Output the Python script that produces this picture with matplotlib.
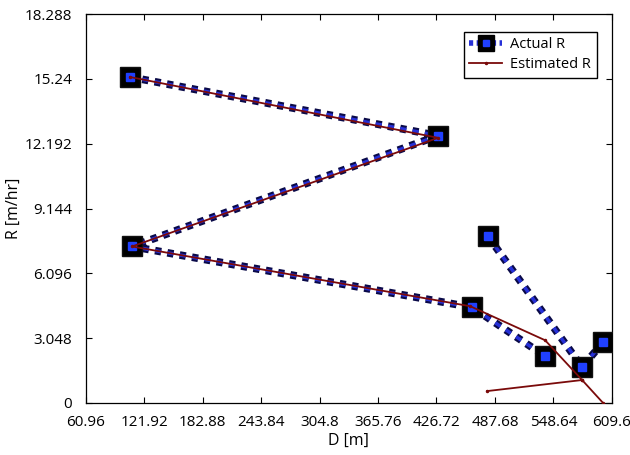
import numpy as np
import matplotlib
matplotlib.use('Agg')
from matplotlib import pyplot as plt
from matplotlib.lines import Line2D

plt.rcParams['font.family'] = ['Open Sans', 'DejaVu Sans']
plt.rcParams['lines.scale_dashes'] = False

# data (nan splits the line)
actual_d = [106.9, 428.4, 109.0, 463.9, 540.1, np.nan, 480.6, 578.7, 600.6]
actual_r = [15.33, 12.57, 7.36, 4.50, 2.20, np.nan, 7.83, 1.69, 2.86]
est_d = [106.9, 428.4, 109.0, 462.0, 540.1, 578.7, 600.6, np.nan, 479.5, 578.7]
est_r = [15.33, 12.47, 7.36, 4.55, 2.95, 1.08, 0.0, np.nan, 0.56, 1.08]

xticks = [60.96, 121.92, 182.88, 243.84, 304.8, 365.76, 426.72, 487.68, 548.64, 609.6]
yticks = [0, 3.048, 6.096, 9.144, 12.192, 15.24, 18.288]
xlabels = ['60.96', '121.92', '182.88', '243.84', '304.8', '365.76', '426.72', '487.68', '548.64', '609.6']
ylabels = ['0', '3.048', '6.096', '9.144', '12.192', '15.24', '18.288']

fig = plt.figure(figsize=(6.3, 4.55), dpi=100)
ax = fig.add_axes([0.1365, 0.1143, 0.8345, 0.8547])

# actual R: dark dotted line with blue core, big black squares with blue centre
ax.plot(actual_d, actual_r, color='#0a0a48', lw=5.5, dashes=(4.5, 4.5), dash_capstyle='butt', zorder=2)
ax.plot(actual_d, actual_r, color='#2630d8', lw=2.5, dashes=(4.5, 4.5), dash_capstyle='butt', zorder=3)
ax.plot(actual_d, actual_r, ls='none', marker='s', ms=15, mfc='black', mec='#111111', zorder=4)
ax.plot(actual_d, actual_r, ls='none', marker='s', ms=6, mfc='#2040ff', mec='#2040ff', zorder=5)

# estimated R
ax.plot(est_d, est_r, color='#7a0a0a', lw=1.3, marker='.', ms=3, zorder=6)

# legend proxies
h1 = Line2D([], [], color='#2630d8', lw=4, dashes=(3, 2.5), marker='s', ms=11, mfc='black', mec='black')
h1c = Line2D([], [], ls='none', marker='s', ms=5, mfc='#2040ff', mec='#2040ff')
h2 = Line2D([], [], color='#7a0a0a', lw=1.3, marker='.', ms=3)
leg = ax.legend([(h1, h1c), h2], ['Actual R', 'Estimated R'], loc='upper right', fontsize=10.5,
                bbox_to_anchor=(0.972, 0.955), frameon=True, fancybox=False, edgecolor='black',
                framealpha=1, borderaxespad=0, handlelength=2.2, labelspacing=0.3, handletextpad=0.6)
leg.get_frame().set_linewidth(1.0)

ax.set_xlim(60.96, 609.6)
ax.set_ylim(0, 18.288)
ax.set_xticks(xticks)
ax.set_xticklabels(xlabels)
ax.set_yticks(yticks)
ax.set_yticklabels(ylabels)
ax.tick_params(direction='in', top=True, right=True, labelsize=11, length=4, width=0.8)
ax.tick_params(axis='x', pad=9)
ax.tick_params(axis='y', pad=10)
for s in ax.spines.values():
    s.set_linewidth(0.9)
ax.set_xlabel('D [m]', fontsize=11.5, labelpad=2)
ax.set_ylabel('R [m/hr]', fontsize=11.5, labelpad=2)

fig.savefig('out.png', dpi=100)
